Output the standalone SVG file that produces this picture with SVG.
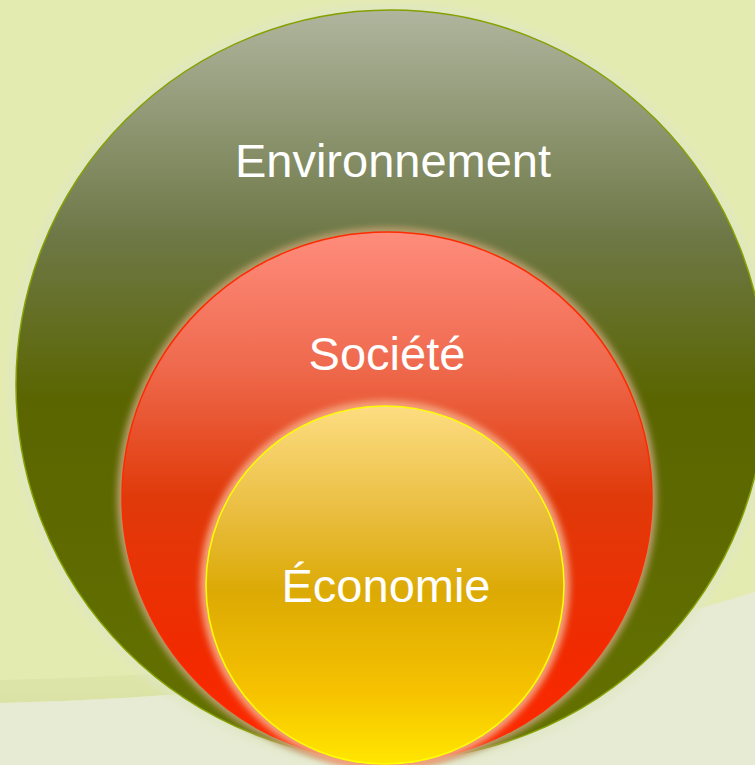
<svg xmlns="http://www.w3.org/2000/svg" width="755" height="765" viewBox="0 0 755 765">
  <defs>
    <linearGradient id="gGreen" x1="0" y1="0" x2="0" y2="1">
      <stop offset="0" stop-color="#b0b59e"/>
      <stop offset="0.3" stop-color="#6e7847"/>
      <stop offset="0.52" stop-color="#5a6500"/>
      <stop offset="1" stop-color="#647200"/>
    </linearGradient>
    <linearGradient id="gRed" x1="0" y1="0" x2="0" y2="1">
      <stop offset="0" stop-color="#ff8c7c"/>
      <stop offset="0.25" stop-color="#ef6a4e"/>
      <stop offset="0.5" stop-color="#e03a0a"/>
      <stop offset="0.8" stop-color="#f22a00"/>
      <stop offset="1" stop-color="#ff2800"/>
    </linearGradient>
    <linearGradient id="gYellow" x1="0" y1="0" x2="0" y2="1">
      <stop offset="0" stop-color="#fddd82"/>
      <stop offset="0.32" stop-color="#e8bb3a"/>
      <stop offset="0.52" stop-color="#dcaa04"/>
      <stop offset="0.8" stop-color="#f6c200"/>
      <stop offset="1" stop-color="#ffe600"/>
    </linearGradient>
    <linearGradient id="gShadow" x1="0" y1="0" x2="0" y2="1">
      <stop offset="0" stop-color="#e4ebb0" stop-opacity="0"/>
      <stop offset="1" stop-color="#d6dea0"/>
    </linearGradient>
    <filter id="blur" x="-10%" y="-10%" width="120%" height="120%">
      <feGaussianBlur stdDeviation="3"/>
    </filter>
    <filter id="blur2" x="-10%" y="-10%" width="120%" height="120%">
      <feGaussianBlur stdDeviation="6"/>
    </filter>
  </defs>
  <style>
    .lbl { font-family: "Liberation Sans", Arial, sans-serif; font-size: 47px; fill: #ffffff; text-anchor: middle; }
  </style>
  <!-- background -->
  <rect x="0" y="0" width="755" height="765" fill="#e4ebb0"/>
  <path d="M0,680 L0,703 Q430,692 755,592 L755,570 Q430,672 0,680 Z" fill="url(#gShadow)" opacity="0.7"/>
  <path d="M0,703 Q430,692 755,592 L755,765 L0,765 Z" fill="#e7ebd3"/>

  <g id="environnement">
    <circle cx="391" cy="385" r="380" fill="#dfe6c4" filter="url(#blur2)"/>
    <circle cx="391" cy="385" r="375" fill="url(#gGreen)" stroke="#86a000" stroke-width="1.5"/>
    <text class="lbl" x="393" y="177">Environnement</text>
  </g>

  <g id="societe">
    <circle cx="387" cy="497" r="270" fill="#b89c6c" filter="url(#blur)"/>
    <circle cx="387" cy="497" r="265" fill="url(#gRed)" stroke="#ff2a00" stroke-width="1.5"/>
    <text class="lbl" x="387" y="370">Société</text>
  </g>

  <g id="economie">
    <circle cx="385" cy="585" r="185" fill="#f4a07a" filter="url(#blur)"/>
    <circle cx="385" cy="585" r="179" fill="url(#gYellow)" stroke="#ffff00" stroke-width="1.5"/>
    <text class="lbl" x="386" y="602">Économie</text>
  </g>

  <g id="connectors"/>
</svg>
